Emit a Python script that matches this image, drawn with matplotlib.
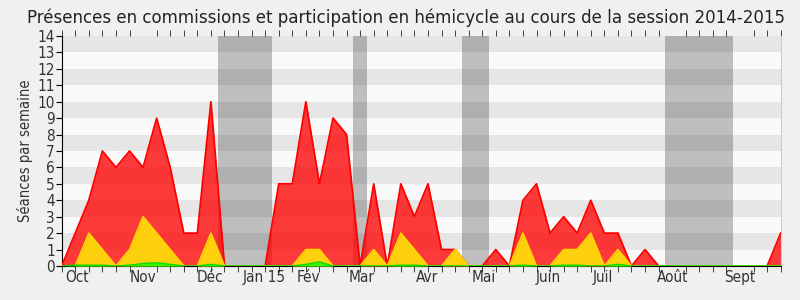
import numpy as np
import matplotlib
matplotlib.use('Agg')
import matplotlib.pyplot as plt

# weekly values, session 2014-2015
red = [0, 2, 4, 7, 6, 7, 6, 9, 6, 2, 2, 10, 0, 0, 0, 0, 5, 5, 10, 5,
       9, 8, 0, 5, 0, 5, 3, 5, 1, 1, 0, 0, 1, 0, 4, 5, 2, 3, 2, 4,
       2, 2, 0, 1, 0, 0, 0, 0, 0, 0, 0, 0, 0, 2]
yellow = [0, 0, 2, 1, 0, 1, 3, 2, 1, 0, 0, 2, 0, 0, 0, 0, 0, 0, 1, 1,
          0, 0, 0, 1, 0, 2, 1, 0, 0, 1, 0, 0, 0, 0, 2, 0, 0, 1, 1, 2,
          0, 1, 0, 0, 0, 0, 0, 0, 0, 0, 0, 0, 0, 0]
green = [0, 0.05, 0.05, 0.05, 0, 0.05, 0.15, 0.2, 0.1, 0, 0, 0.1, 0, 0, 0, 0, 0, 0, 0.1, 0.25,
         0, 0, 0, 0, 0, 0.05, 0.05, 0, 0, 0, 0, 0, 0, 0, 0.05, 0, 0, 0.05, 0.05, 0,
         0, 0.1, 0, 0, 0, 0, 0, 0, 0, 0, 0, 0, 0, 0]
vacances = [(11.5, 15.5), (21.5, 22.5), (29.5, 31.5), (44.5, 49.5)]
mois = ['Oct', 'Nov', 'Déc', 'Jan 15', 'Fév', 'Mar', 'Avr', 'Mai', 'Juin', 'Juil', 'Août', 'Sept']
mois_pos = [1.1, 6.0, 10.9, 14.9, 18.2, 22.1, 26.9, 31.1, 35.9, 39.9, 45.0, 50.0]

plt.rcParams['font.family'] = 'DejaVu Sans'
plt.rcParams['font.stretch'] = 'condensed'

fig = plt.figure(figsize=(8, 3), dpi=100)
fig.patch.set_facecolor('#f0f0f0')
ax = fig.add_axes([61.7 / 800, 34 / 300, 719 / 800, 230 / 300])
ax.set_facecolor('#fafafa')

x = np.arange(len(red))

# horizontal stripes
for k in range(1, 14, 2):
    ax.axhspan(k, k + 1, color='#e6e6e6', lw=0, zorder=0)

# vacation weeks
for a, b in vacances:
    ax.axvspan(a, b, color='black', alpha=0.24, lw=0, zorder=1)

ax.fill_between(x, red, color='#ff0000', alpha=0.77, lw=0, zorder=2)
ax.plot(x, red, color='#ff0000', lw=1.3, zorder=3)
ax.fill_between(x, yellow, color='#ffff00', alpha=0.77, lw=0, zorder=4)
ax.plot(x, yellow, color='#ffd700', lw=1.2, zorder=5)
ax.fill_between(x, green, color='#00ff00', alpha=0.77, lw=0, zorder=6)
ax.plot(x, green, color='#00dd00', lw=1, zorder=7)

ax.set_xlim(0, len(red) - 1)
ax.set_ylim(0, 14)
ax.set_yticks(range(15))
ax.tick_params(axis='y', labelsize=11, length=4, pad=1)
ax.set_xticks(mois_pos)
ax.set_xticklabels(mois)
ax.set_xticks(x, minor=True)
ax.tick_params(axis='x', which='major', length=0, labelsize=11, pad=3)
ax.tick_params(axis='x', which='minor', length=4, top=True, bottom=True, color='#222222')
ax.tick_params(axis='both', labelcolor='#333333')

ax.set_ylabel('Séances par semaine', fontsize=10.5, color='#333333', labelpad=3)

ax.spines['top'].set_visible(False)
ax.spines['right'].set_color('#cccccc')
ax.spines['left'].set_color('#000000')
ax.spines['bottom'].set_color('#000000')

fig.text(0.508, 0.942, 'Présences en commissions et participation en hémicycle au cours de la session 2014-2015',
         ha='center', va='center', fontsize=13.3, color='#222222')

fig.savefig('out.png', dpi=100, facecolor=fig.get_facecolor())
